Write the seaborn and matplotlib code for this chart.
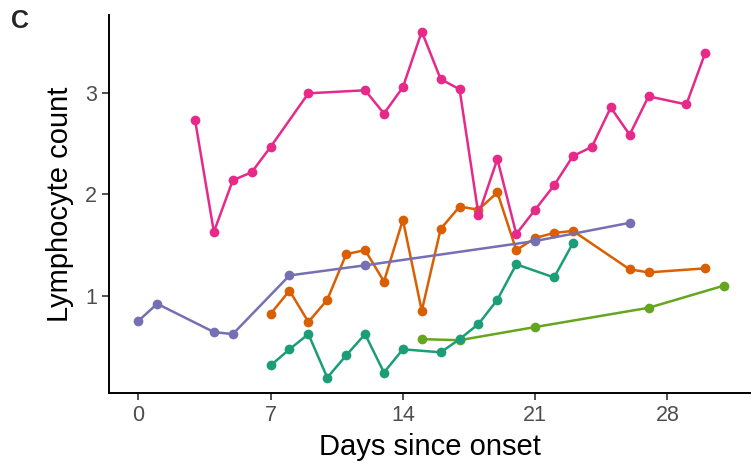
import numpy as np
import pandas as pd
import seaborn as sns
import matplotlib.pyplot as plt

# days since onset / lymphocyte counts per patient
pink_days = [3, 4, 5, 6, 7, 9, 12, 13, 14, 15, 16, 17, 18, 19, 20, 21, 22, 23, 24, 25, 26, 27, 29, 30]
pink_vals = [2.74, 1.63, 2.14, 2.22, 2.47, 3.00, 3.03, 2.80, 3.06, 3.61, 3.14, 3.04, 1.80, 2.35, 1.61,
             1.85, 2.09, 2.38, 2.47, 2.86, 2.59, 2.97, 2.89, 3.40]

orange_days = [7, 8, 9, 10, 11, 12, 13, 14, 15, 16, 17, 18, 19, 20, 21, 22, 23, 26, 27, 30]
orange_vals = [0.82, 1.05, 0.74, 0.96, 1.41, 1.45, 1.14, 1.75, 0.85, 1.66, 1.88, 1.85, 2.02, 1.45,
               1.57, 1.62, 1.64, 1.26, 1.23, 1.27]

purple_days = [0, 1, 4, 5, 8, 12, 21, 26]
purple_vals = [0.75, 0.92, 0.64, 0.62, 1.20, 1.30, 1.54, 1.72]

teal_days = [7, 8, 9, 10, 11, 12, 13, 14, 16, 17, 18, 19, 20, 22, 23]
teal_vals = [0.31, 0.47, 0.62, 0.19, 0.41, 0.62, 0.24, 0.47, 0.44, 0.57, 0.72, 0.96, 1.31, 1.18, 1.52]

lime_days = [15, 17, 21, 27, 31]
lime_vals = [0.57, 0.56, 0.69, 0.88, 1.10]

series = [
    ("orange", orange_days, orange_vals, "#D95F02"),
    ("lime", lime_days, lime_vals, "#66A61E"),
    ("teal", teal_days, teal_vals, "#1B9E77"),
    ("purple", purple_days, purple_vals, "#7570B3"),
    ("pink", pink_days, pink_vals, "#E7298A"),
]

sns.set_style("ticks")
plt.rcParams['font.family'] = ['Liberation Sans', 'DejaVu Sans']

fig = plt.figure(figsize=(7.51, 4.65), dpi=100)
ax = fig.add_axes([109/751, 72/465, 1 - 109/751, 378/465])

for name, d, v, col in series:
    df = pd.DataFrame({"day": d, "count": v})
    sns.lineplot(data=df, x="day", y="count", color=col, marker="o", markersize=7,
                 markeredgewidth=0, linewidth=1.8, estimator=None, ax=ax)

ax.set_xlim(-1.55, 32.42)
ax.set_ylim(0.038, 3.774)
ax.set_xticks([0, 7, 14, 21, 28])
ax.set_yticks([1, 2, 3])
ax.set_xlabel("Days since onset", fontsize=21, color="black", labelpad=5)
ax.set_ylabel("Lymphocyte count", fontsize=21, color="black", labelpad=8)
ax.tick_params(labelsize=15.5, labelcolor="#4D4D4D", color="#333333", length=5, width=1.2)
sns.despine(ax=ax)
for s in ["left", "bottom"]:
    ax.spines[s].set_linewidth(1.4)
    ax.spines[s].set_color("black")

fig.text(11/751, 1 - 28/465, "C", fontsize=18, fontweight="bold")

fig.savefig("out.png", dpi=100)
